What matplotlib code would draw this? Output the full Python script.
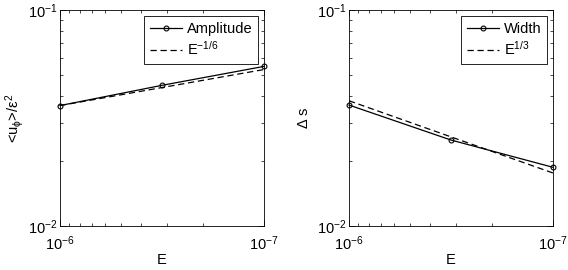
import matplotlib
matplotlib.use("Agg")
import matplotlib.pyplot as plt
import numpy as np
from matplotlib.ticker import LogLocator, NullFormatter

plt.rcParams['font.family'] = ['Liberation Sans', 'DejaVu Sans']
plt.rcParams['mathtext.fontset'] = 'custom'
plt.rcParams['mathtext.rm'] = 'Liberation Sans'
plt.rcParams['mathtext.it'] = 'Liberation Sans'
plt.rcParams['mathtext.default'] = 'regular'

E = [1e-6, 3.16e-7, 1e-7]
amplitude = [0.0361, 0.0448, 0.0548]
amp_fit = [0.0361, 0.0530]
width = [0.0363, 0.0250, 0.0187]
width_fit = [0.0380, 0.0176]
E_fit = [1e-6, 1e-7]

fig = plt.figure(figsize=(5.68, 2.70), dpi=100)
ax1 = fig.add_axes([0.1056, 0.163, 0.359, 0.8])
ax2 = fig.add_axes([0.6144, 0.163, 0.359, 0.8])

def style(ax):
    ax.set_xscale('log')
    ax.set_yscale('log')
    ax.set_xlim(1e-6, 1e-7)
    ax.set_ylim(1e-2, 1e-1)
    ax.tick_params(which='both', direction='in', top=True, right=True, labelsize=10.5, width=0.5)
    ax.tick_params(axis='x', which='both', pad=6)
    ax.tick_params(axis='y', which='both', pad=2)
    ax.tick_params(which='major', length=4)
    ax.tick_params(which='minor', length=2)
    ax.xaxis.set_minor_locator(LogLocator(base=10, subs=np.arange(2, 10)))
    ax.yaxis.set_minor_locator(LogLocator(base=10, subs=np.arange(2, 10)))
    ax.xaxis.set_minor_formatter(NullFormatter())
    ax.yaxis.set_minor_formatter(NullFormatter())
    for s in ax.spines.values():
        s.set_linewidth(0.6)
    ax.set_xlabel('E', fontsize=10.5, labelpad=0)

style(ax1)
style(ax2)

mk = dict(marker='o', markersize=3.5, markerfacecolor='none', markeredgewidth=0.8, clip_on=False)

ax1.plot(E, amplitude, 'k-', lw=0.9, label='Amplitude', **mk)
ax1.plot(E_fit, amp_fit, 'k--', lw=0.9, dashes=(5, 3), label='E$^{-1/6}$')
ax1.set_ylabel(r'<u$_\phi$>/$\varepsilon^2$', fontsize=10.5, labelpad=1)
leg = ax1.legend(loc='upper right', fontsize=10.5, fancybox=False, edgecolor='k', framealpha=1,
                 handlelength=2.2, handletextpad=0.3, borderaxespad=0.4, labelspacing=0.3)
leg.get_frame().set_linewidth(0.6)

ax2.plot(E, width, 'k-', lw=0.9, label='Width', **mk)
ax2.plot(E_fit, width_fit, 'k--', lw=0.9, dashes=(5, 3), label='E$^{1/3}$')
ax2.set_ylabel(r'$\Delta$ s', fontsize=10.5, labelpad=4)
leg = ax2.legend(loc='upper right', fontsize=10.5, fancybox=False, edgecolor='k', framealpha=1,
                 handlelength=2.2, handletextpad=0.3, borderaxespad=0.4, labelspacing=0.3)
leg.get_frame().set_linewidth(0.6)

fig.savefig('out.png', dpi=100)
